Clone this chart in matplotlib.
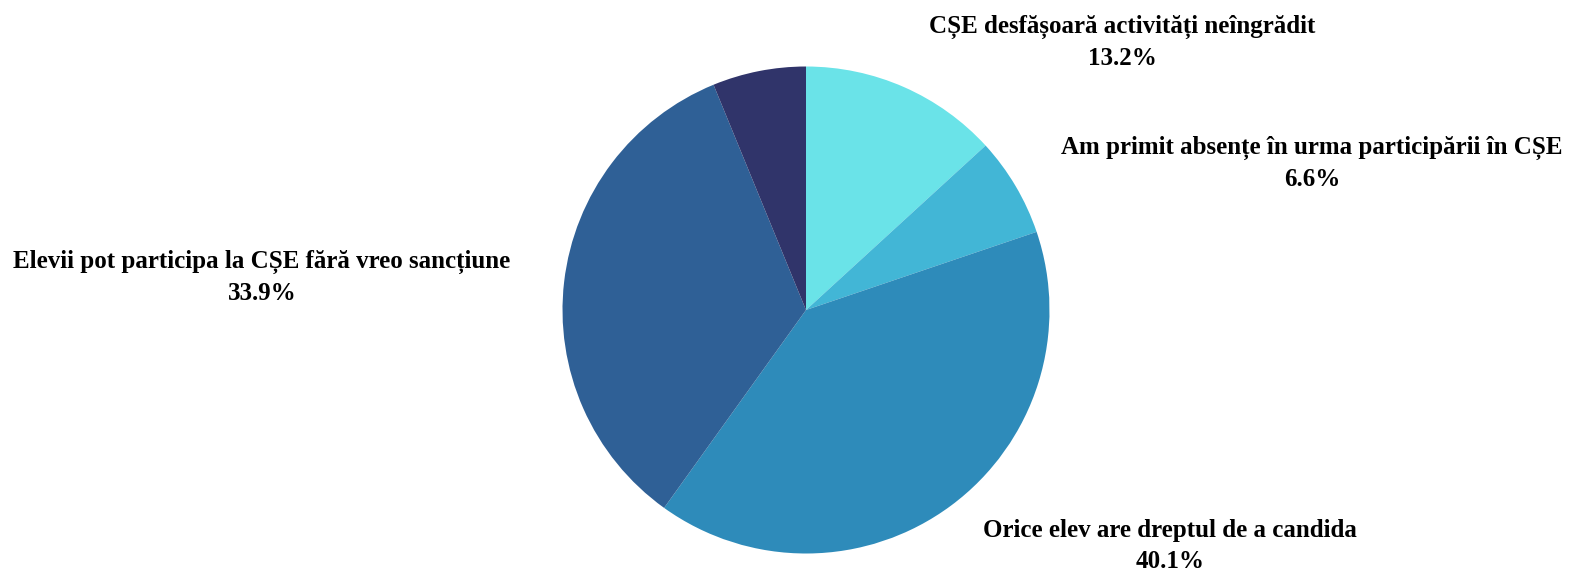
import matplotlib.pyplot as plt

# Pie slices, clockwise from the top
labels = [
    "CȘE desfășoară activități neîngrădit",
    "Am primit absențe în urma participării în CȘE",
    "Orice elev are dreptul de a candida",
    "Elevii pot participa la CȘE fără vreo sancțiune",
    "",
]
shares = [13.2, 6.6, 40.1, 33.9, 6.2]
colors = ["#6AE3E8", "#42B6D6", "#2E8BBA", "#2F6096", "#30346A"]

# label centres in pixels (x, y from top)
label_pos = [(1122, 42), (1312, 163), (1170, 546), (262, 277), None]

W, H = 1573, 575
fig = plt.figure(figsize=(W / 100, H / 100), dpi=100)

cx, cy, r = 806, 310, 243.5
ax = fig.add_axes([(cx - r) / W, (H - cy - r) / H, 2 * r / W, 2 * r / H])
ax.pie(shares, colors=colors, startangle=90, counterclock=False, radius=1,
       wedgeprops=dict(linewidth=0))
ax.set_xlim(-1, 1)
ax.set_ylim(-1, 1)
ax.set_aspect("equal")
ax.axis("off")

for lab, val, pos in zip(labels, shares, label_pos):
    if pos is None:
        continue
    x, y = pos
    fig.text(x / W, 1 - y / H, f"{lab}\n{val:.1f}%", ha="center", va="center",
             fontsize=18, fontweight="bold", family="Liberation Serif",
             linespacing=1.45, color="#000000")

fig.savefig("out.png", dpi=100)
